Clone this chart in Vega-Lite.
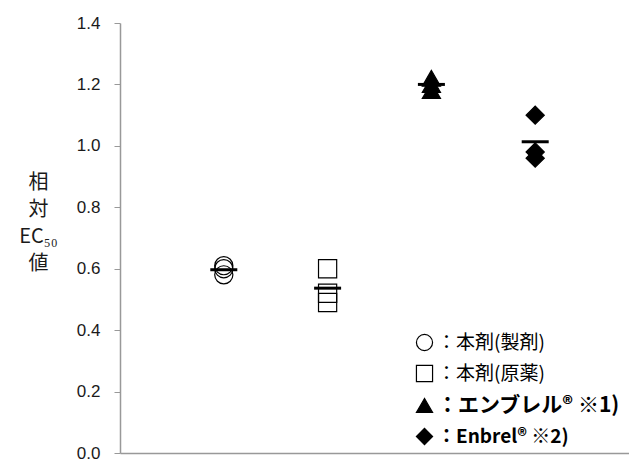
{
  "$schema": "https://vega.github.io/schema/vega-lite/v6.json",
  "width": 509,
  "height": 430,
  "autosize": "none",
  "padding": {"left": 120, "top": 23, "right": 0, "bottom": 9},
  "background": "white",
  "config": {
    "view": {"stroke": null},
    "font": "Liberation Sans",
    "legend": {
      "title": null,
      "orient": "none",
      "legendX": 295,
      "legendY": 310,
      "padding": 0,
      "rowPadding": 10,
      "symbolSize": 260,
      "symbolStrokeWidth": 1.2,
      "labelOffset": 3,
      "labelFont": "Noto Sans CJK JP",
      "labelColor": "black",
      "labelLimit": 300
    }
  },
  "data": {
    "values": [
      {"group": "本剤(製剤)", "value": 0.58},
      {"group": "本剤(製剤)", "value": 0.60},
      {"group": "本剤(製剤)", "value": 0.61},
      {"group": "本剤(原薬)", "value": 0.60},
      {"group": "本剤(原薬)", "value": 0.52},
      {"group": "本剤(原薬)", "value": 0.49},
      {"group": "エンブレル", "value": 1.22},
      {"group": "エンブレル", "value": 1.20},
      {"group": "エンブレル", "value": 1.18},
      {"group": "Enbrel", "value": 1.10},
      {"group": "Enbrel", "value": 0.98},
      {"group": "Enbrel", "value": 0.96}
    ]
  },
  "encoding": {
    "x": {
      "field": "group",
      "type": "nominal",
      "sort": ["本剤(製剤)", "本剤(原薬)", "エンブレル", "Enbrel"],
      "scale": {"type": "point", "range": [0, 519], "padding": 1},
      "axis": {"title": null, "labels": false, "ticks": false, "domainColor": "#999999", "domainWidth": 1.5, "grid": false}
    },
    "y": {
      "field": "value",
      "type": "quantitative",
      "scale": {"domain": [0, 1.4], "nice": false, "zero": true},
      "axis": {
        "values": [0, 0.2, 0.4, 0.6, 0.8, 1.0, 1.2, 1.4],
        "format": ".1f",
        "grid": false,
        "domainColor": "#999999",
        "domainWidth": 1.5,
        "tickColor": "#999999",
        "tickSize": 6,
        "labelFont": "Liberation Sans",
        "labelFontSize": 17,
        "labelColor": "#1a1a1a",
        "labelPadding": 14,
        "title": ["相", "対", "EC₅₀", "値"],
        "titleAngle": 0,
        "titleFont": "Noto Sans CJK JP",
        "titleFontSize": 20,
        "titleFontWeight": "normal",
        "titleColor": "#1a1a1a",
        "titleLineHeight": 27,
        "titleAlign": "center",
        "titleBaseline": "top",
        "titleX": -82,
        "titleY": 149
      }
    }
  },
  "layer": [
    {
      "mark": {"type": "point", "filled": true, "strokeWidth": 1.2, "opacity": 1, "size": 330},
      "encoding": {
        "shape": {
          "field": "group",
          "type": "nominal",
          "scale": {"domain": ["本剤(製剤)", "本剤(原薬)", "エンブレル", "Enbrel"], "range": ["circle", "square", "triangle-up", "diamond"]},
          "legend": {
            "labelFontWeight": {"expr": "datum.index >= 2 ? 'bold' : 'normal'"},
            "labelFontSize": {"expr": "datum.index == 2 ? 21 : 19"},
            "labelExpr": "'：' + datum.label + (datum.label == 'エンブレル' ? '® ※1)' : datum.label == 'Enbrel' ? '® ※2)' : '')"
          }
        },
        "fill": {
          "field": "group",
          "type": "nominal",
          "scale": {"domain": ["本剤(製剤)", "本剤(原薬)", "エンブレル", "Enbrel"], "range": ["transparent", "transparent", "black", "black"]},
          "legend": {
            "labelFontWeight": {"expr": "datum.index >= 2 ? 'bold' : 'normal'"},
            "labelFontSize": {"expr": "datum.index == 2 ? 21 : 19"},
            "labelExpr": "'：' + datum.label + (datum.label == 'エンブレル' ? '® ※1)' : datum.label == 'Enbrel' ? '® ※2)' : '')"
          }
        },
        "stroke": {
          "field": "group",
          "type": "nominal",
          "scale": {"domain": ["本剤(製剤)", "本剤(原薬)", "エンブレル", "Enbrel"], "range": ["black", "black", "black", "black"]},
          "legend": {
            "labelFontWeight": {"expr": "datum.index >= 2 ? 'bold' : 'normal'"},
            "labelFontSize": {"expr": "datum.index == 2 ? 21 : 19"},
            "labelExpr": "'：' + datum.label + (datum.label == 'エンブレル' ? '® ※1)' : datum.label == 'Enbrel' ? '® ※2)' : '')"
          }
        }
      }
    },
    {
      "mark": {"type": "tick", "orient": "horizontal", "color": "black", "size": 27, "thickness": 3, "opacity": 1},
      "encoding": {
        "y": {"aggregate": "mean", "field": "value", "type": "quantitative"}
      }
    }
  ]
}
